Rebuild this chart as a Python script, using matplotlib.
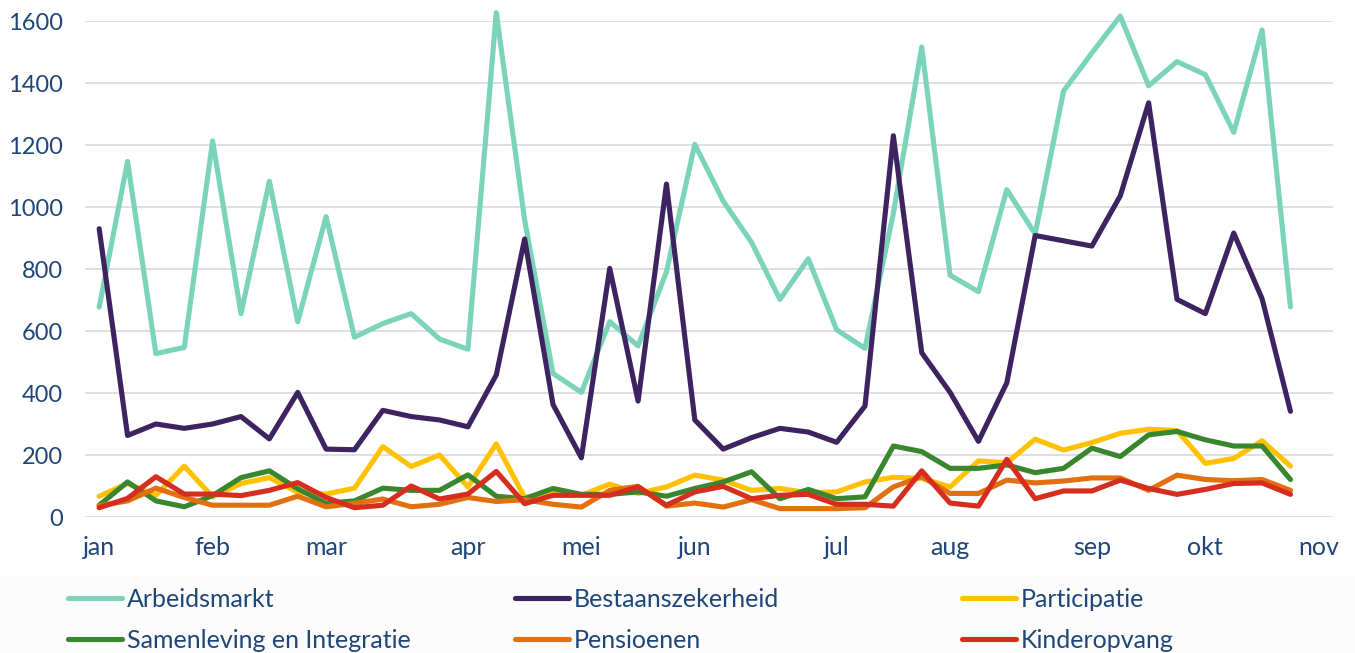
import matplotlib
matplotlib.use('Agg')
import matplotlib.pyplot as plt
from matplotlib.patches import Rectangle

plt.rcParams['font.family'] = ['Lato', 'DejaVu Sans']

navy = '#1f4678'
grid_col = '#d9d9d9'

# weekly points, month labels at the first week of each month
month_labels = ['jan', 'feb', 'mar', 'apr', 'mei', 'jun', 'jul', 'aug', 'sep', 'okt', 'nov']
month_weeks = [0, 4, 8, 13, 17, 21, 26, 30, 35, 39, 43]

arbeidsmarkt = [677, 1147, 527, 547, 1213, 656, 1083, 630, 969, 580, 624, 656, 574, 541,
                1627, 958, 463, 402, 630, 552, 791, 1202, 1019, 886, 702, 833, 604, 544,
                980, 1516, 780, 727, 1056, 913, 1374, 1497, 1616, 1391, 1469, 1427, 1241,
                1571, 678]
bestaanszekerheid = [930, 263, 300, 286, 300, 324, 252, 402, 219, 217, 344, 324, 313, 291,
                     458, 897, 363, 191, 802, 374, 1074, 313, 219, 256, 286, 274, 241, 358,
                     1230, 530, 402, 244, 433, 908, 891, 874, 1036, 1336, 702, 656, 916,
                     704, 341]
participatie = [67, 108, 70, 164, 65, 108, 127, 80, 74, 93, 227, 163, 200, 97,
                236, 63, 76, 70, 106, 76, 97, 135, 119, 86, 92, 78, 81, 113,
                128, 125, 97, 181, 175, 251, 216, 240, 270, 283, 279, 173, 189, 246, 164]
samenleving = [38, 113, 52, 33, 69, 127, 149, 91, 44, 52, 93, 86, 86, 136,
               67, 59, 92, 73, 73, 81, 67, 92, 113, 146, 59, 89, 59, 65,
               229, 211, 157, 157, 168, 143, 157, 222, 195, 265, 276, 249, 229, 229, 121]
pensioenen = [36, 52, 93, 63, 38, 38, 38, 67, 33, 44, 58, 33, 41, 63,
              50, 56, 41, 32, 86, 99, 35, 45, 32, 56, 27, 27, 27, 30,
              97, 130, 76, 76, 119, 110, 116, 126, 126, 86, 135, 121, 117, 121, 86]
kinderopvang = [30, 60, 130, 74, 74, 69, 86, 111, 63, 30, 38, 100, 58, 74,
                147, 43, 70, 70, 70, 97, 38, 81, 99, 59, 70, 73, 41, 41,
                35, 149, 45, 35, 186, 59, 84, 84, 119, 92, 73, 89, 108, 110, 73]

series = [
    ('Arbeidsmarkt', arbeidsmarkt, '#7bd4ba'),
    ('Bestaanszekerheid', bestaanszekerheid, '#3d2460'),
    ('Participatie', participatie, '#ffc100'),
    ('Samenleving en Integratie', samenleving, '#38872e'),
    ('Pensioenen', pensioenen, '#e3700f'),
    ('Kinderopvang', kinderopvang, '#d52e1f'),
]

W, H = 1355, 653
fig = plt.figure(figsize=(W / 100, H / 100), dpi=100)
fig.patches.append(Rectangle((0, 0), 1, 76 / H, transform=fig.transFigure,
                             color='#fcfcfd', zorder=-1))
ax = fig.add_axes([85 / W, 136 / H, 1248 / W, 496 / H])

lines = []
for label, vals, col in series:
    ln, = ax.plot(range(len(vals)), vals, color=col, lw=3.7, label=label,
                  solid_joinstyle='round', solid_capstyle='round', clip_on=False)
    lines.append(ln)

ax.set_xlim(-0.5, 43.5)
ax.set_ylim(0, 1600)
ax.set_yticks(range(0, 1601, 200))
ax.set_xticks(month_weeks, month_labels)
ax.grid(axis='y', color=grid_col, lw=1.2, zorder=0)
ax.set_axisbelow(True)
for s in ax.spines.values():
    s.set_visible(False)
ax.tick_params(axis='y', length=0, pad=16, labelsize=17, labelcolor=navy)
ax.tick_params(axis='x', length=0, pad=14, labelsize=18, labelcolor=navy)

# legend in three columns, placed separately
cols = [[0, 3], [1, 4], [2, 5]]
xs = [68, 515, 962]
for c, x0 in zip(cols, xs):
    fig.legend([lines[i] for i in c], [series[i][0] for i in c], loc='center left',
               bbox_to_anchor=(x0 / W, 33 / H), frameon=False, fontsize=18,
               handlelength=2.15, handletextpad=0.2, labelspacing=0.72,
               borderpad=0, borderaxespad=0, labelcolor=navy)

fig.savefig('out.png', dpi=100)
